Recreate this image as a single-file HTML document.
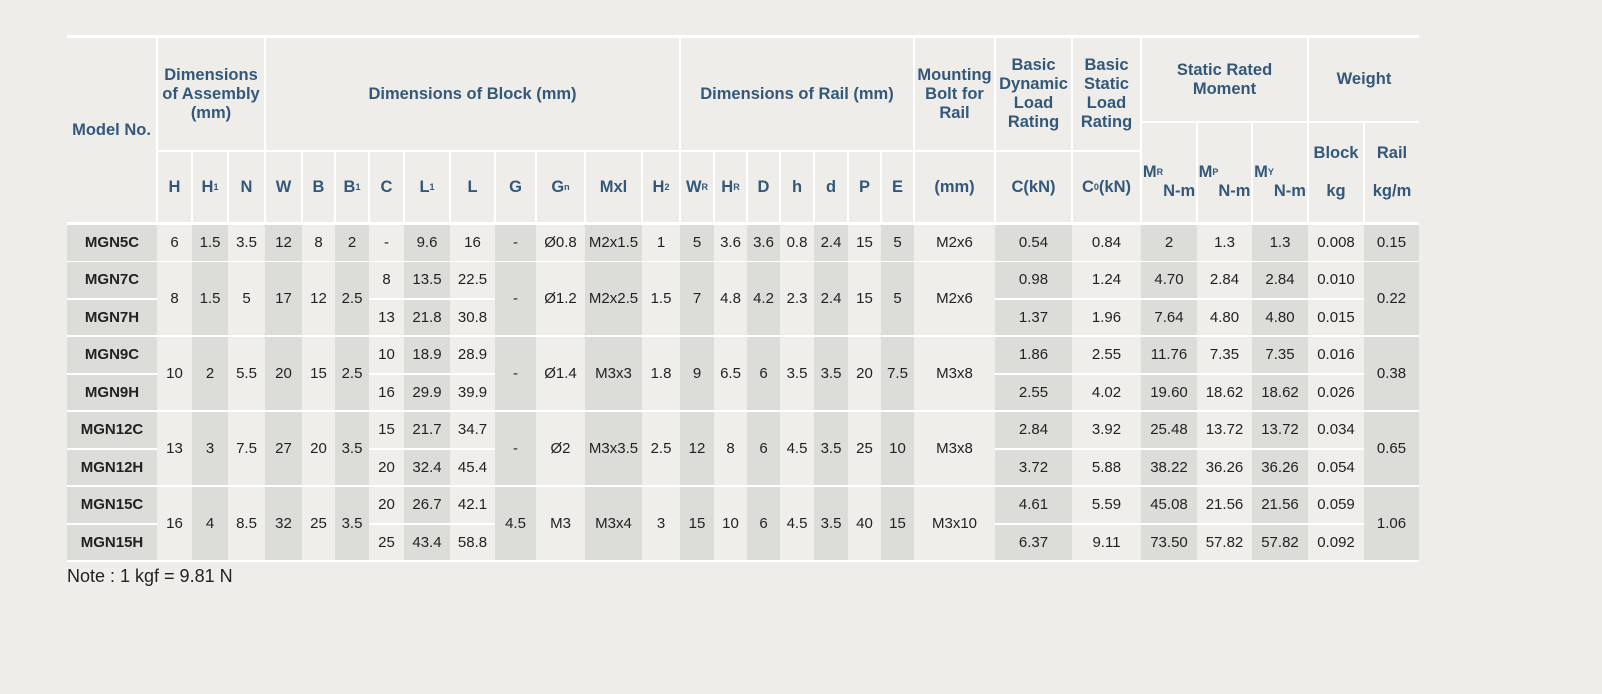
<!DOCTYPE html>
<html><head><meta charset="utf-8">
<style>
html,body{margin:0;padding:0;background:#eeede9;width:1602px;height:694px;overflow:hidden;font-family:"Liberation Sans","DejaVu Sans",sans-serif;}
.c{position:absolute;display:flex;align-items:center;justify-content:center;text-align:center;box-sizing:border-box;}
.h{background:#eeede9;color:#34587a;font-weight:bold;font-size:16.5px;line-height:19px;}
.d{font-size:15px;color:#222;}
.m{font-weight:bold;}
.dk{background:#dcdcd8;}
.lt{background:#efeeeb;}
sub{font-size:9px;vertical-align:-2px;}
#note{position:absolute;left:67px;top:566px;font-size:18px;color:#222;}
</style></head><body>
<div id="tbl"></div>
<div id="note">Note : 1 kgf = 9.81 N</div>
<script>
// varying columns per row: model, C, L1, L, Cdyn, C0, MR, MP, MY, block
var groupRows = [
 [["MGN5C","-","9.6","16","0.54","0.84","2","1.3","1.3","0.008"]],
 [["MGN7C","8","13.5","22.5","0.98","1.24","4.70","2.84","2.84","0.010"],["MGN7H","13","21.8","30.8","1.37","1.96","7.64","4.80","4.80","0.015"]],
 [["MGN9C","10","18.9","28.9","1.86","2.55","11.76","7.35","7.35","0.016"],["MGN9H","16","29.9","39.9","2.55","4.02","19.60","18.62","18.62","0.026"]],
 [["MGN12C","15","21.7","34.7","2.84","3.92","25.48","13.72","13.72","0.034"],["MGN12H","20","32.4","45.4","3.72","5.88","38.22","36.26","36.26","0.054"]],
 [["MGN15C","20","26.7","42.1","4.61","5.59","45.08","21.56","21.56","0.059"],["MGN15H","25","43.4","58.8","6.37","9.11","73.50","57.82","57.82","0.092"]]
];
// shared columns: H,H1,N,W,B,B1,G,Gn,Mxl,H2,WR,HR,D,h,d,P,E,bolt,rail
var groupShared = [
 ["6","1.5","3.5","12","8","2","-","Ø0.8","M2x1.5","1","5","3.6","3.6","0.8","2.4","15","5","M2x6","0.15"],
 ["8","1.5","5","17","12","2.5","-","Ø1.2","M2x2.5","1.5","7","4.8","4.2","2.3","2.4","15","5","M2x6","0.22"],
 ["10","2","5.5","20","15","2.5","-","Ø1.4","M3x3","1.8","9","6.5","6","3.5","3.5","20","7.5","M3x8","0.38"],
 ["13","3","7.5","27","20","3.5","-","Ø2","M3x3.5","2.5","12","8","6","4.5","3.5","25","10","M3x8","0.65"],
 ["16","4","8.5","32","25","3.5","4.5","M3","M3x4","3","15","10","6","4.5","3.5","40","15","M3x10","1.06"]
];
var headerCells = [
 [0,1,38,222,"Model No.","model-no-header"],
 [1,4,38,150,"Dimensions<br>of Assembly<br>(mm)","assembly-dimensions-header"],
 [4,14,38,150,"Dimensions of Block (mm)","block-dimensions-header"],
 [14,21,38,150,"Dimensions of Rail (mm)","rail-dimensions-header"],
 [21,22,38,150,"Mounting<br>Bolt for<br>Rail","mounting-bolt-header"],
 [22,23,38,150,"Basic<br>Dynamic<br>Load<br>Rating","dynamic-load-header"],
 [23,24,38,150,"Basic<br>Static<br>Load<br>Rating","static-load-header"],
 [24,27,38,121,"Static Rated<br>Moment","static-moment-header"],
 [27,29,38,121,"Weight","weight-header"],
 [24,25,123,222,"M<sub>R</sub><br><br>N-m","mr-header"],
 [25,26,123,222,"M<sub>P</sub><br><br>N-m","mp-header"],
 [26,27,123,222,"M<sub>Y</sub><br><br>N-m","my-header"],
 [27,28,123,222,"Block<br><br>kg","block-weight-header"],
 [28,29,123,222,"Rail<br><br>kg/m","rail-weight-header"]
];
var subLabels = ["H","H<sub>1</sub>","N","W","B","B<sub>1</sub>","C","L<sub>1</sub>","L","G","G<sub>n</sub>","Mxl","H<sub>2</sub>","W<sub>R</sub>","H<sub>R</sub>","D","h","d","P","E","(mm)","C(kN)","C<sub>0</sub> (kN)"];
var xs = [67,157,192,228,265,302,335,369,404,450,495,536,585,642,680,714,747,780,814,848,881,914,995,1072,1141,1197,1252,1308,1364,1419];
var tbl = document.getElementById('tbl');
function box(x,y,w,h){var e=document.createElement('div');e.className='c';e.style.left=x+'px';e.style.top=y+'px';e.style.width=w+'px';e.style.height=h+'px';tbl.appendChild(e);return e;}
var wb = box(67,35,1352,527); wb.style.background='#fff';


function hcell(c0,c1,t,b,html,name){
  var x0 = xs[c0] + (c0>0?1:0), x1 = xs[c1] - (c1<29?1:0);
  var e = box(x0,t,x1-x0,b-t);
  e.className='c h'; e.innerHTML=html;
  
  
}
headerCells.forEach(function(h){hcell(h[0],h[1],h[2],h[3],h[4],h[5]);});
subLabels.forEach(function(l,i){hcell(i+1,i+2,152,222,l,'column-header-'+(i+1));});
var varyingCols = [0,7,8,9,22,23,24,25,26,27];
var groupTops = [225,262,337,412,487];
groupRows.forEach(function(rows,g){
  var n = rows.length, gt = groupTops[g];
  rows.forEach(function(row,r){
    var si = 0;
    for (var c=0;c<29;c++){
      var vIdx = varyingCols.indexOf(c), txt, top, hgt;
      if (vIdx>=0){ txt=row[vIdx]; top=gt+r*37.5; hgt=35.5; }
      else { var idx=si; si++; if(r>0) continue; txt=groupShared[g][idx]; top=gt; hgt=n*37.5-2; }
      var e = box(xs[c],top,xs[c+1]-xs[c],hgt);
      e.className='c d '+(c%2===0?'dk':'lt')+(c===0?' m':'');
      e.textContent=txt;
      
      
    }
  });
});
</script>
</body></html>
